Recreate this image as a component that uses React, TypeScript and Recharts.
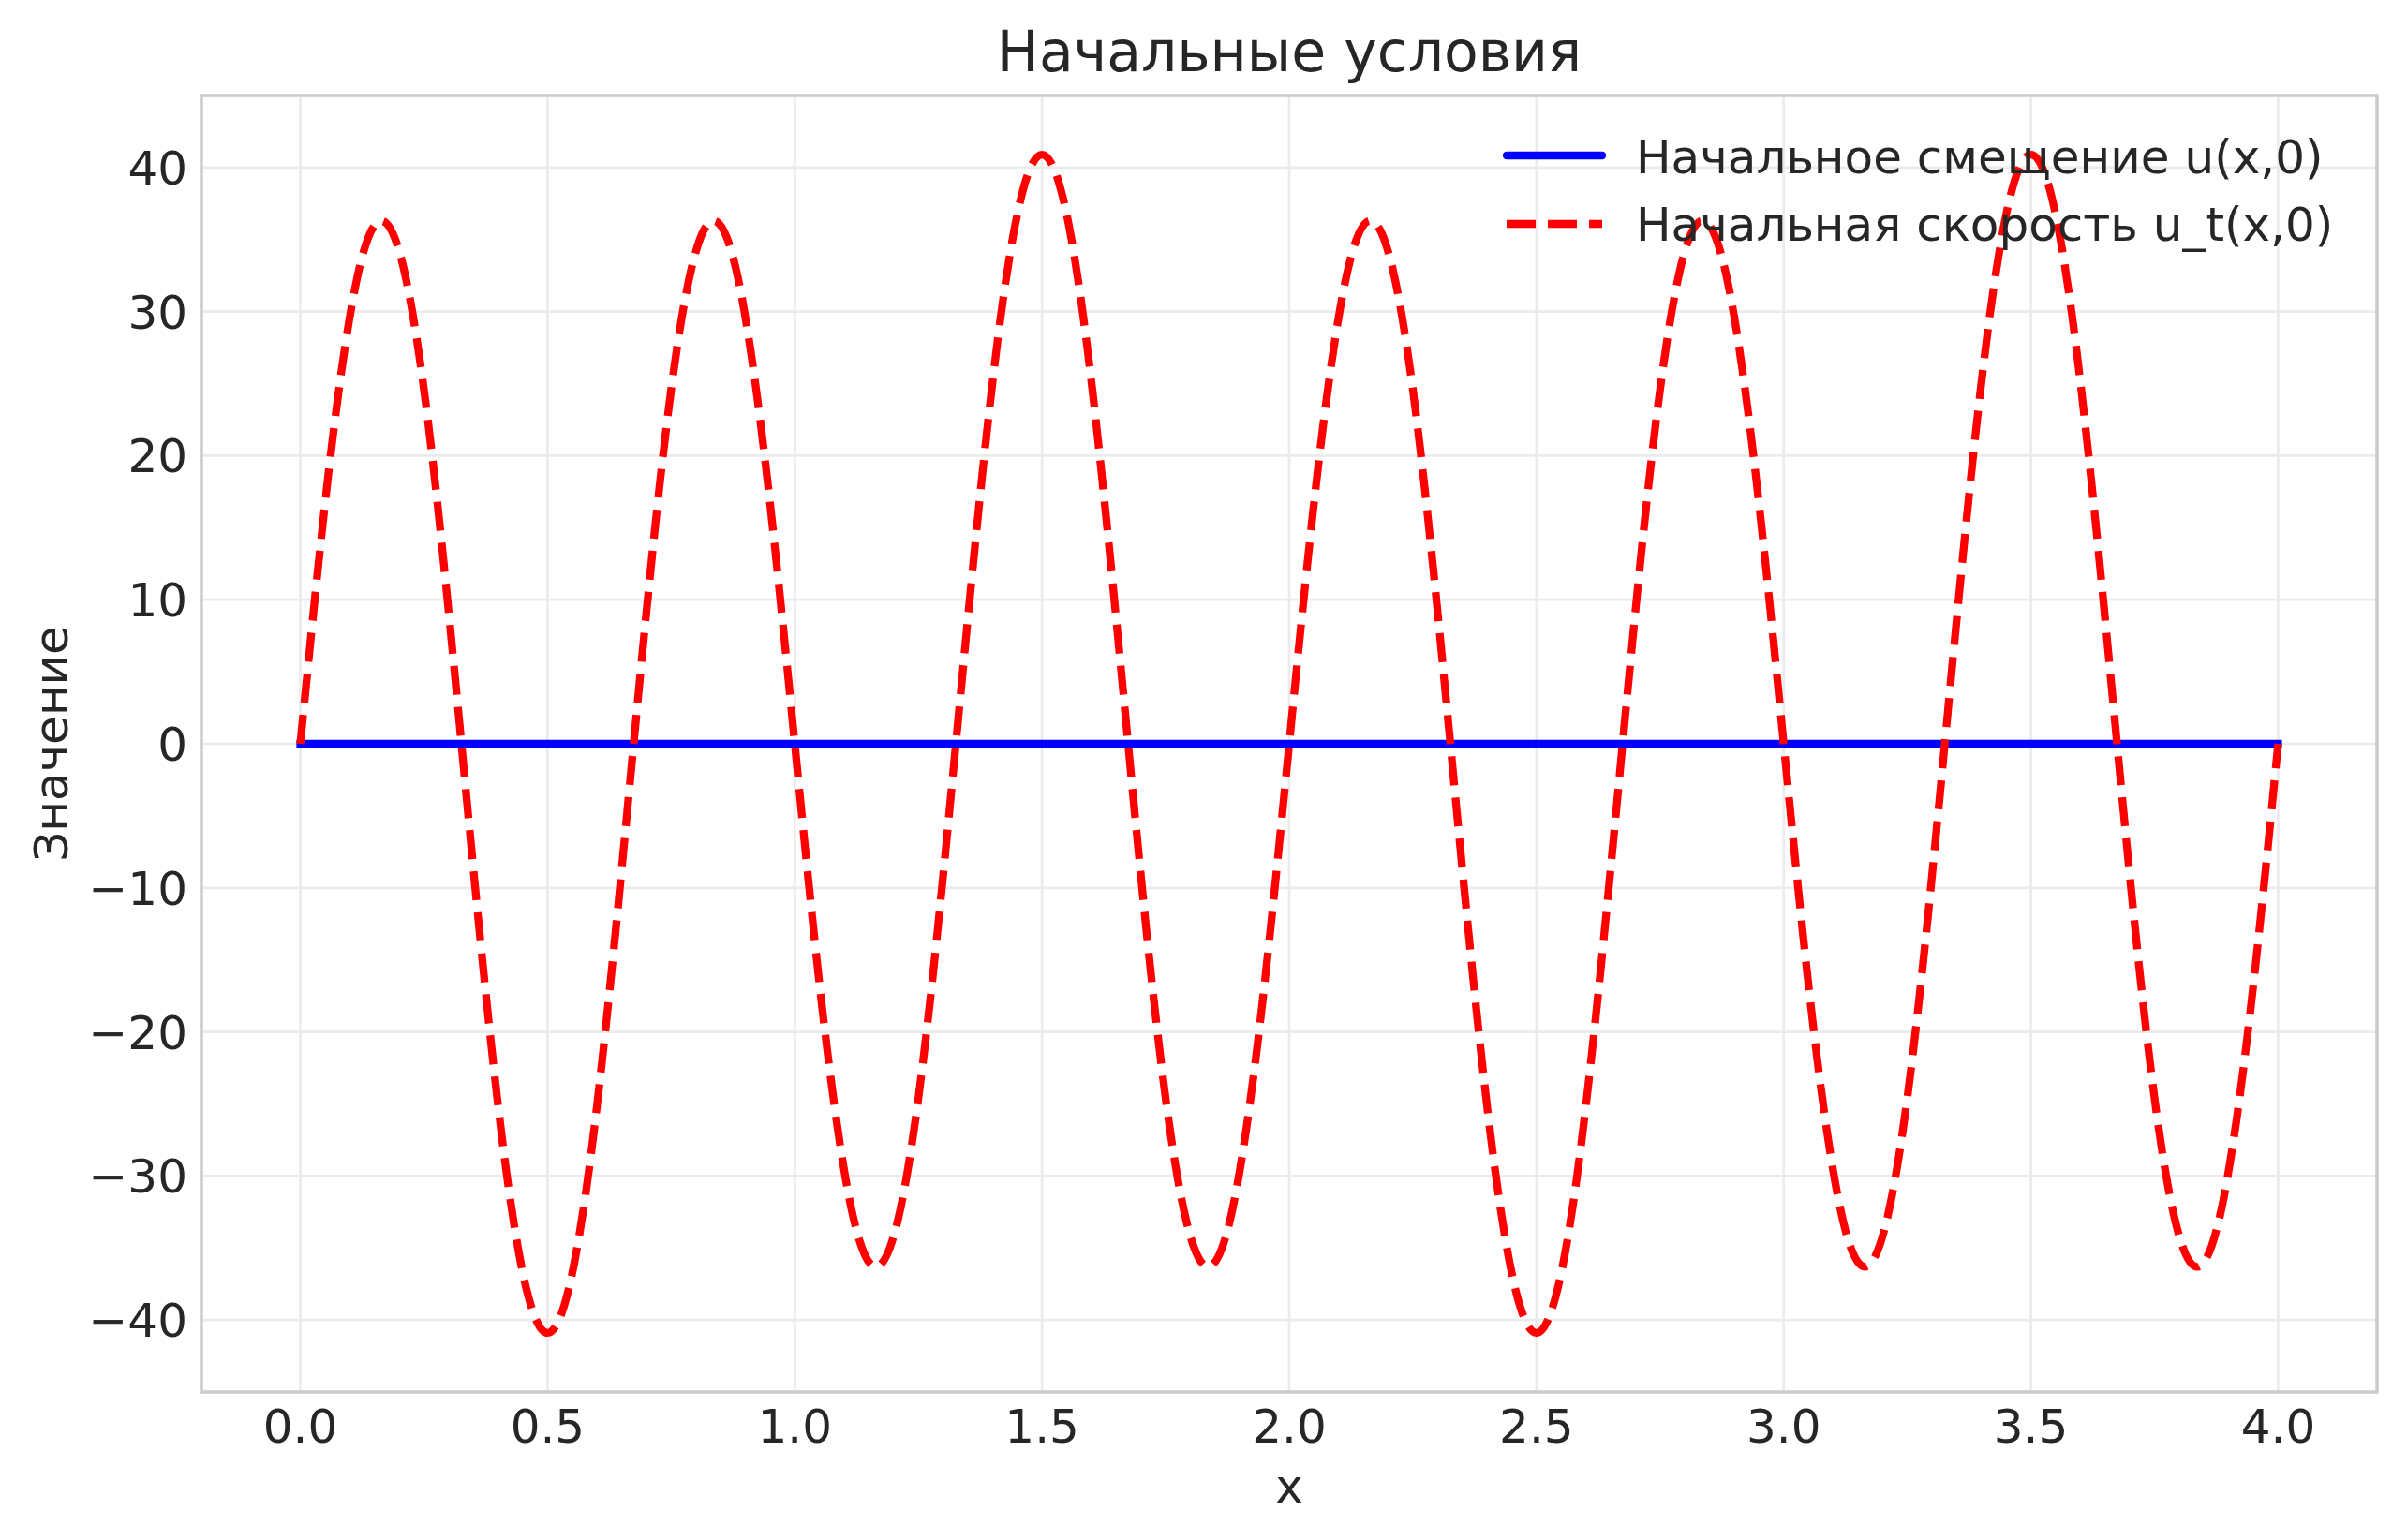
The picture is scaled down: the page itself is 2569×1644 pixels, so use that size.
import React from 'react';
import {
  LineChart, Line, XAxis, YAxis, CartesianGrid, ReferenceArea, Label,
} from 'recharts';

const FONT = '"DejaVu Sans", "Noto Sans", sans-serif';
const INK = '#262626';

// sample points along x (step 1/24)
const xs = [
  0, 0.0417, 0.0833, 0.125, 0.1667, 0.2083, 0.25, 0.2917, 0.3333, 0.375, 0.4167, 0.4583,
  0.5, 0.5417, 0.5833, 0.625, 0.6667, 0.7083, 0.75, 0.7917, 0.8333, 0.875, 0.9167, 0.9583,
  1.0, 1.0417, 1.0833, 1.125, 1.1667, 1.2083, 1.25, 1.2917, 1.3333, 1.375, 1.4167, 1.4583,
  1.5, 1.5417, 1.5833, 1.625, 1.6667, 1.7083, 1.75, 1.7917, 1.8333, 1.875, 1.9167, 1.9583,
  2.0, 2.0417, 2.0833, 2.125, 2.1667, 2.2083, 2.25, 2.2917, 2.3333, 2.375, 2.4167, 2.4583,
  2.5, 2.5417, 2.5833, 2.625, 2.6667, 2.7083, 2.75, 2.7917, 2.8333, 2.875, 2.9167, 2.9583,
  3.0, 3.0417, 3.0833, 3.125, 3.1667, 3.2083, 3.25, 3.2917, 3.3333, 3.375, 3.4167, 3.4583,
  3.5, 3.5417, 3.5833, 3.625, 3.6667, 3.7083, 3.75, 3.7917, 3.8333, 3.875, 3.9167, 3.9583,
  4.0,
];

// initial displacement u(x,0)
const displacement = [
  0, 0, 0, 0, 0, 0, 0, 0, 0, 0, 0, 0,
  0, 0, 0, 0, 0, 0, 0, 0, 0, 0, 0, 0,
  0, 0, 0, 0, 0, 0, 0, 0, 0, 0, 0, 0,
  0, 0, 0, 0, 0, 0, 0, 0, 0, 0, 0, 0,
  0, 0, 0, 0, 0, 0, 0, 0, 0, 0, 0, 0,
  0, 0, 0, 0, 0, 0, 0, 0, 0, 0, 0, 0,
  0, 0, 0, 0, 0, 0, 0, 0, 0, 0, 0, 0,
  0, 0, 0, 0, 0, 0, 0, 0, 0, 0, 0, 0,
  0,
];

// initial velocity u_t(x,0)
const velocity = [
  0, 14.1, 25.9, 33.8, 36.3, 33.1, 24.6, 12.0, -2.7, -17.3, -29.7, -38.0,
  -40.9, -38.0, -29.7, -17.3, -2.7, 12.0, 24.6, 33.1, 36.3, 33.8, 25.9, 14.1,
  0, -14.1, -25.9, -33.8, -36.3, -33.1, -24.6, -12.0, 2.7, 17.3, 29.7, 38.0,
  40.9, 38.0, 29.7, 17.3, 2.7, -12.0, -24.6, -33.1, -36.3, -33.8, -25.9, -14.1,
  0, 14.1, 25.9, 33.8, 36.3, 33.1, 24.6, 12.0, -2.7, -17.3, -29.7, -38.0,
  -40.9, -38.0, -29.7, -17.3, -2.7, 12.0, 24.6, 33.1, 36.3, 33.8, 25.9, 14.1,
  0, -14.1, -25.9, -33.8, -36.3, -33.1, -24.6, -12.0, 2.7, 17.3, 29.7, 38.0,
  40.9, 38.0, 29.7, 17.3, 2.7, -12.0, -24.6, -33.1, -36.3, -33.8, -25.9, -14.1,
  0,
];

const xTicks = [0, 0.5, 1, 1.5, 2, 2.5, 3, 3.5, 4];
const yTicks = [-40, -30, -20, -10, 0, 10, 20, 30, 40];

const TITLE = 'Начальные условия';
const X_LABEL = 'x';
const Y_LABEL = 'Значение';
const SERIES = [
  { key: 'u', name: 'Начальное смещение u(x,0)', color: '#0000ff', dash: undefined as string | undefined },
  { key: 'ut', name: 'Начальная скорость u_t(x,0)', color: '#ff0000', dash: '31 13' },
];

const data = xs.map((x, i) => ({ x, u: displacement[i], ut: velocity[i] }));

const minus = (s: string) => s.replace('-', '\u2212');

const XTick = ({ x, y, payload }: any) => (
  <text x={x} y={y + 54} textAnchor="middle" fontSize={50} fill={INK} fontFamily={FONT}>
    {minus(Number(payload.value).toFixed(1))}
  </text>
);

const YTick = ({ x, y, payload }: any) => (
  <text x={x - 15} y={y + 18} textAnchor="end" fontSize={50} fill={INK} fontFamily={FONT}>
    {minus(String(payload.value))}
  </text>
);

// legend drawn as an overlay so it doesn't shift the plot area
const LegendBox = () => (
  <svg width={900} height={150} style={{ position: 'absolute', left: 1600, top: 130, pointerEvents: 'none' }}>
    {SERIES.map((s, i) => (
      <g key={s.key}>
        <line
          x1={8} x2={110} y1={36 + i * 73} y2={36 + i * 73}
          stroke={s.color} strokeWidth={8.3} strokeDasharray={s.dash}
          strokeLinecap={s.dash ? 'butt' : 'round'}
        />
        <text x={146} y={55 + i * 72} fontSize={50} fill={INK} fontFamily={FONT}>
          {s.name}
        </text>
      </g>
    ))}
  </svg>
);

export default function App() {
  return (
    <div style={{ position: 'absolute', left: 0, top: 0, width: 2569, height: 1644, background: '#fff' }}>
      <LineChart
        width={2569}
        height={1644}
        data={data}
        margin={{ top: 102, right: 32, bottom: 38, left: 15 }}
      >
        <CartesianGrid stroke="#ebebeb" strokeWidth={2.7} />
        <XAxis
          dataKey="x"
          type="number"
          domain={[-0.2, 4.2]}
          ticks={xTicks}
          interval={0}
          allowDataOverflow
          axisLine={false}
          tickLine={false}
          tickSize={0}
          tickMargin={0}
          height={120}
          tick={<XTick />}
        >
          <Label
            content={({ viewBox }: any) => (
              <text x={viewBox.x + viewBox.width / 2} y={viewBox.y + 118} textAnchor="middle"
                fontSize={50} fill={INK} fontFamily={FONT}>{X_LABEL}</text>
            )}
          />
        </XAxis>
        <YAxis
          type="number"
          domain={[-45, 45]}
          ticks={yTicks}
          interval={0}
          allowDataOverflow
          axisLine={false}
          tickLine={false}
          tickSize={0}
          tickMargin={0}
          width={200}
          tick={<YTick />}
        >
          <Label
            content={({ viewBox }: any) => {
              const cx = viewBox.x + 57;
              const cy = viewBox.y + viewBox.height / 2;
              return (
                <text x={cx} y={cy} textAnchor="middle" transform={`rotate(-90 ${cx} ${cy})`}
                  fontSize={50} fill={INK} fontFamily={FONT}>{Y_LABEL}</text>
              );
            }}
          />
        </YAxis>
        <ReferenceArea x1={-0.2} x2={4.2} y1={-45} y2={45} fill="none" fillOpacity={0}
          stroke="#cccccc" strokeWidth={3.5} ifOverflow="visible" />
        {SERIES.map((s) => (
          <Line
            key={s.key}
            dataKey={s.key}
            name={s.name}
            type="natural"
            stroke={s.color}
            strokeWidth={8.3}
            strokeDasharray={s.dash}
            strokeLinecap={s.dash ? 'butt' : 'square'}
            dot={false}
            activeDot={false}
            isAnimationActive={false}
          />
        ))}
      </LineChart>
      <LegendBox />
      <svg width={2569} height={110} style={{ position: 'absolute', left: 0, top: 0, pointerEvents: 'none' }}>
        <text x={1376} y={76} textAnchor="middle" fontSize={60} fill={INK} fontFamily={FONT}>{TITLE}</text>
      </svg>
    </div>
  );
}
